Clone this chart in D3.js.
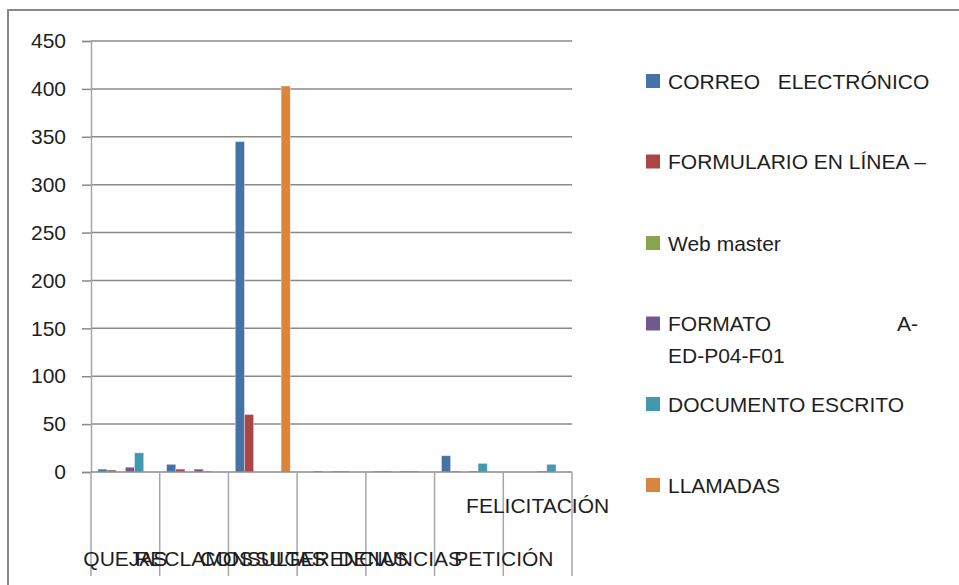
<!DOCTYPE html>
<html>
<head>
<meta charset="utf-8">
<script src="https://cdn.jsdelivr.net/npm/d3@7"></script>
<style>
  html, body { margin: 0; padding: 0; background: #fff; }
  svg { display: block; font-family: "Liberation Sans", Arial, sans-serif; }
</style>
</head>
<body>
<svg id="chart" width="959" height="585"></svg>
<script>
// ---- data ----
const categories = ["QUEJAS", "RECLAMOS", "CONSULTAS", "SUGERENCIAS", "DENUNCIAS", "PETICIÓN", "FELICITACIÓN"];
const seriesNames = ["CORREO   ELECTRÓNICO", "FORMULARIO EN LÍNEA –", "Web master", "FORMATO A-ED-P04-F01", "DOCUMENTO ESCRITO", "LLAMADAS"];
const correoValues     = [3, 8, 345, 0, 1, 17, 0];
const formularioValues = [2, 3, 60, 1, 1, 1, 0];
const webmasterValues  = [0, 0, 0, 0, 0, 0, 0];
const formatoValues    = [5, 3, 0, 1, 1, 1, 1];
const documentoValues  = [20, 1, 0, 1, 1, 9, 8];
const llamadasValues   = [0, 0, 403, 0, 0, 0, 0];
const yTicks = [0, 50, 100, 150, 200, 250, 300, 350, 400, 450];

const seriesValues = [correoValues, formularioValues, webmasterValues, formatoValues, documentoValues, llamadasValues];
const colors = ["#4572A7", "#AA4643", "#89A54E", "#71588F", "#4198AF", "#DB843D"];

// ---- layout ----
const svg = d3.select("#chart");
const plot = { left: 91, right: 572, top: 41, bottom: 472 };
const textColor = "#1e1e1e";
const gridColor = "#8a8a8a";

// outer chart border
svg.append("rect")
  .attr("x", 8).attr("y", 10).attr("width", 1000).attr("height", 700)
  .attr("fill", "none").attr("stroke", "#888").attr("stroke-width", 2);

const x0 = d3.scaleBand().domain(categories).range([plot.left, plot.right]).paddingInner(0).paddingOuter(0);
const x1 = d3.scaleBand().domain(d3.range(seriesNames.length)).range([0, x0.bandwidth()]).paddingInner(0).paddingOuter(0.75);
const y = d3.scaleLinear().domain([0, 450]).range([plot.bottom, plot.top]);

// gridlines
svg.append("g").selectAll("line").data(yTicks.filter(t => t > 0)).join("line")
  .attr("x1", plot.left).attr("x2", plot.right)
  .attr("y1", d => y(d)).attr("y2", d => y(d))
  .attr("stroke", gridColor).attr("stroke-width", 1.5);

// y axis
const yAxis = d3.axisLeft(y).tickValues(yTicks).tickSize(9).tickPadding(16).tickFormat(d3.format("d"));
const yg = svg.append("g").attr("transform", `translate(${plot.left},0)`).call(yAxis);
yg.select(".domain").attr("stroke", "#a6a6a6").attr("stroke-width", 1.5);
yg.selectAll(".tick line").attr("stroke", gridColor).attr("stroke-width", 1.5);
yg.selectAll(".tick text").attr("fill", textColor).style("font-size", "21px")
  .style("font-family", "'Liberation Sans', Arial, sans-serif");

// bars
const groups = svg.append("g").selectAll("g").data(categories).join("g")
  .attr("transform", d => `translate(${x0(d)},0)`);
groups.selectAll("rect")
  .data((c, ci) => seriesValues.map((vals, si) => ({ si, v: vals[ci] })))
  .join("rect")
  .attr("x", d => x1(d.si))
  .attr("width", x1.bandwidth())
  .attr("y", d => y(d.v))
  .attr("height", d => y(0) - y(d.v))
  .attr("fill", d => colors[d.si])
  .attr("stroke", d => d.v > 0 ? "rgba(255,255,255,0.45)" : "none")
  .attr("stroke-width", 0.8);

// x axis line + category tick lines
svg.append("line")
  .attr("x1", plot.left).attr("x2", plot.right)
  .attr("y1", y(0)).attr("y2", y(0))
  .attr("stroke", gridColor).attr("stroke-width", 1.5);
const boundaries = categories.map(c => x0(c)).concat([plot.right]);
svg.append("g").selectAll("line").data(boundaries).join("line")
  .attr("x1", d => d).attr("x2", d => d)
  .attr("y1", y(0)).attr("y2", 576)
  .attr("stroke", "#a6a6a6").attr("stroke-width", 1.5);

// category labels (overlapping as in the original)
const labelShift = { "PETICIÓN": 35, "FELICITACIÓN": 0 };
const labelRow = { "FELICITACIÓN": 513 };
svg.append("g").selectAll("text").data(categories).join("text")
  .attr("x", d => x0(d) + x0.bandwidth() / 2 + (labelShift[d] || 0))
  .attr("y", d => labelRow[d] || 566)
  .attr("text-anchor", "middle")
  .attr("fill", textColor)
  .style("font-size", "21px")
  .text(d => d);

// legend
const legendY = [81, 161.5, 243, 323.5, 404, 485];
const lg = svg.append("g").selectAll("g").data(seriesNames).join("g")
  .attr("transform", (d, i) => `translate(646,${legendY[i]})`);
lg.append("rect").attr("x", 0).attr("y", -7).attr("width", 14).attr("height", 14)
  .attr("fill", (d, i) => colors[i]);
lg.each(function(d, i) {
  const g = d3.select(this);
  if (d.startsWith("FORMATO")) {
    g.append("text").attr("x", 22).attr("y", 7.5).attr("fill", textColor).style("font-size", "21px").text("FORMATO");
    g.append("text").attr("x", 272).attr("y", 7.5).attr("text-anchor", "end").attr("fill", textColor).style("font-size", "21px").text("A-");
    g.append("text").attr("x", 22).attr("y", 39.5).attr("fill", textColor).style("font-size", "21px").text("ED-P04-F01");
  } else {
    g.append("text").attr("x", 22).attr("y", 7.5).attr("fill", textColor)
      .style("font-size", "21px").style("white-space", "pre").attr("xml:space", "preserve").text(d);
  }
});
</script>
</body>
</html>
